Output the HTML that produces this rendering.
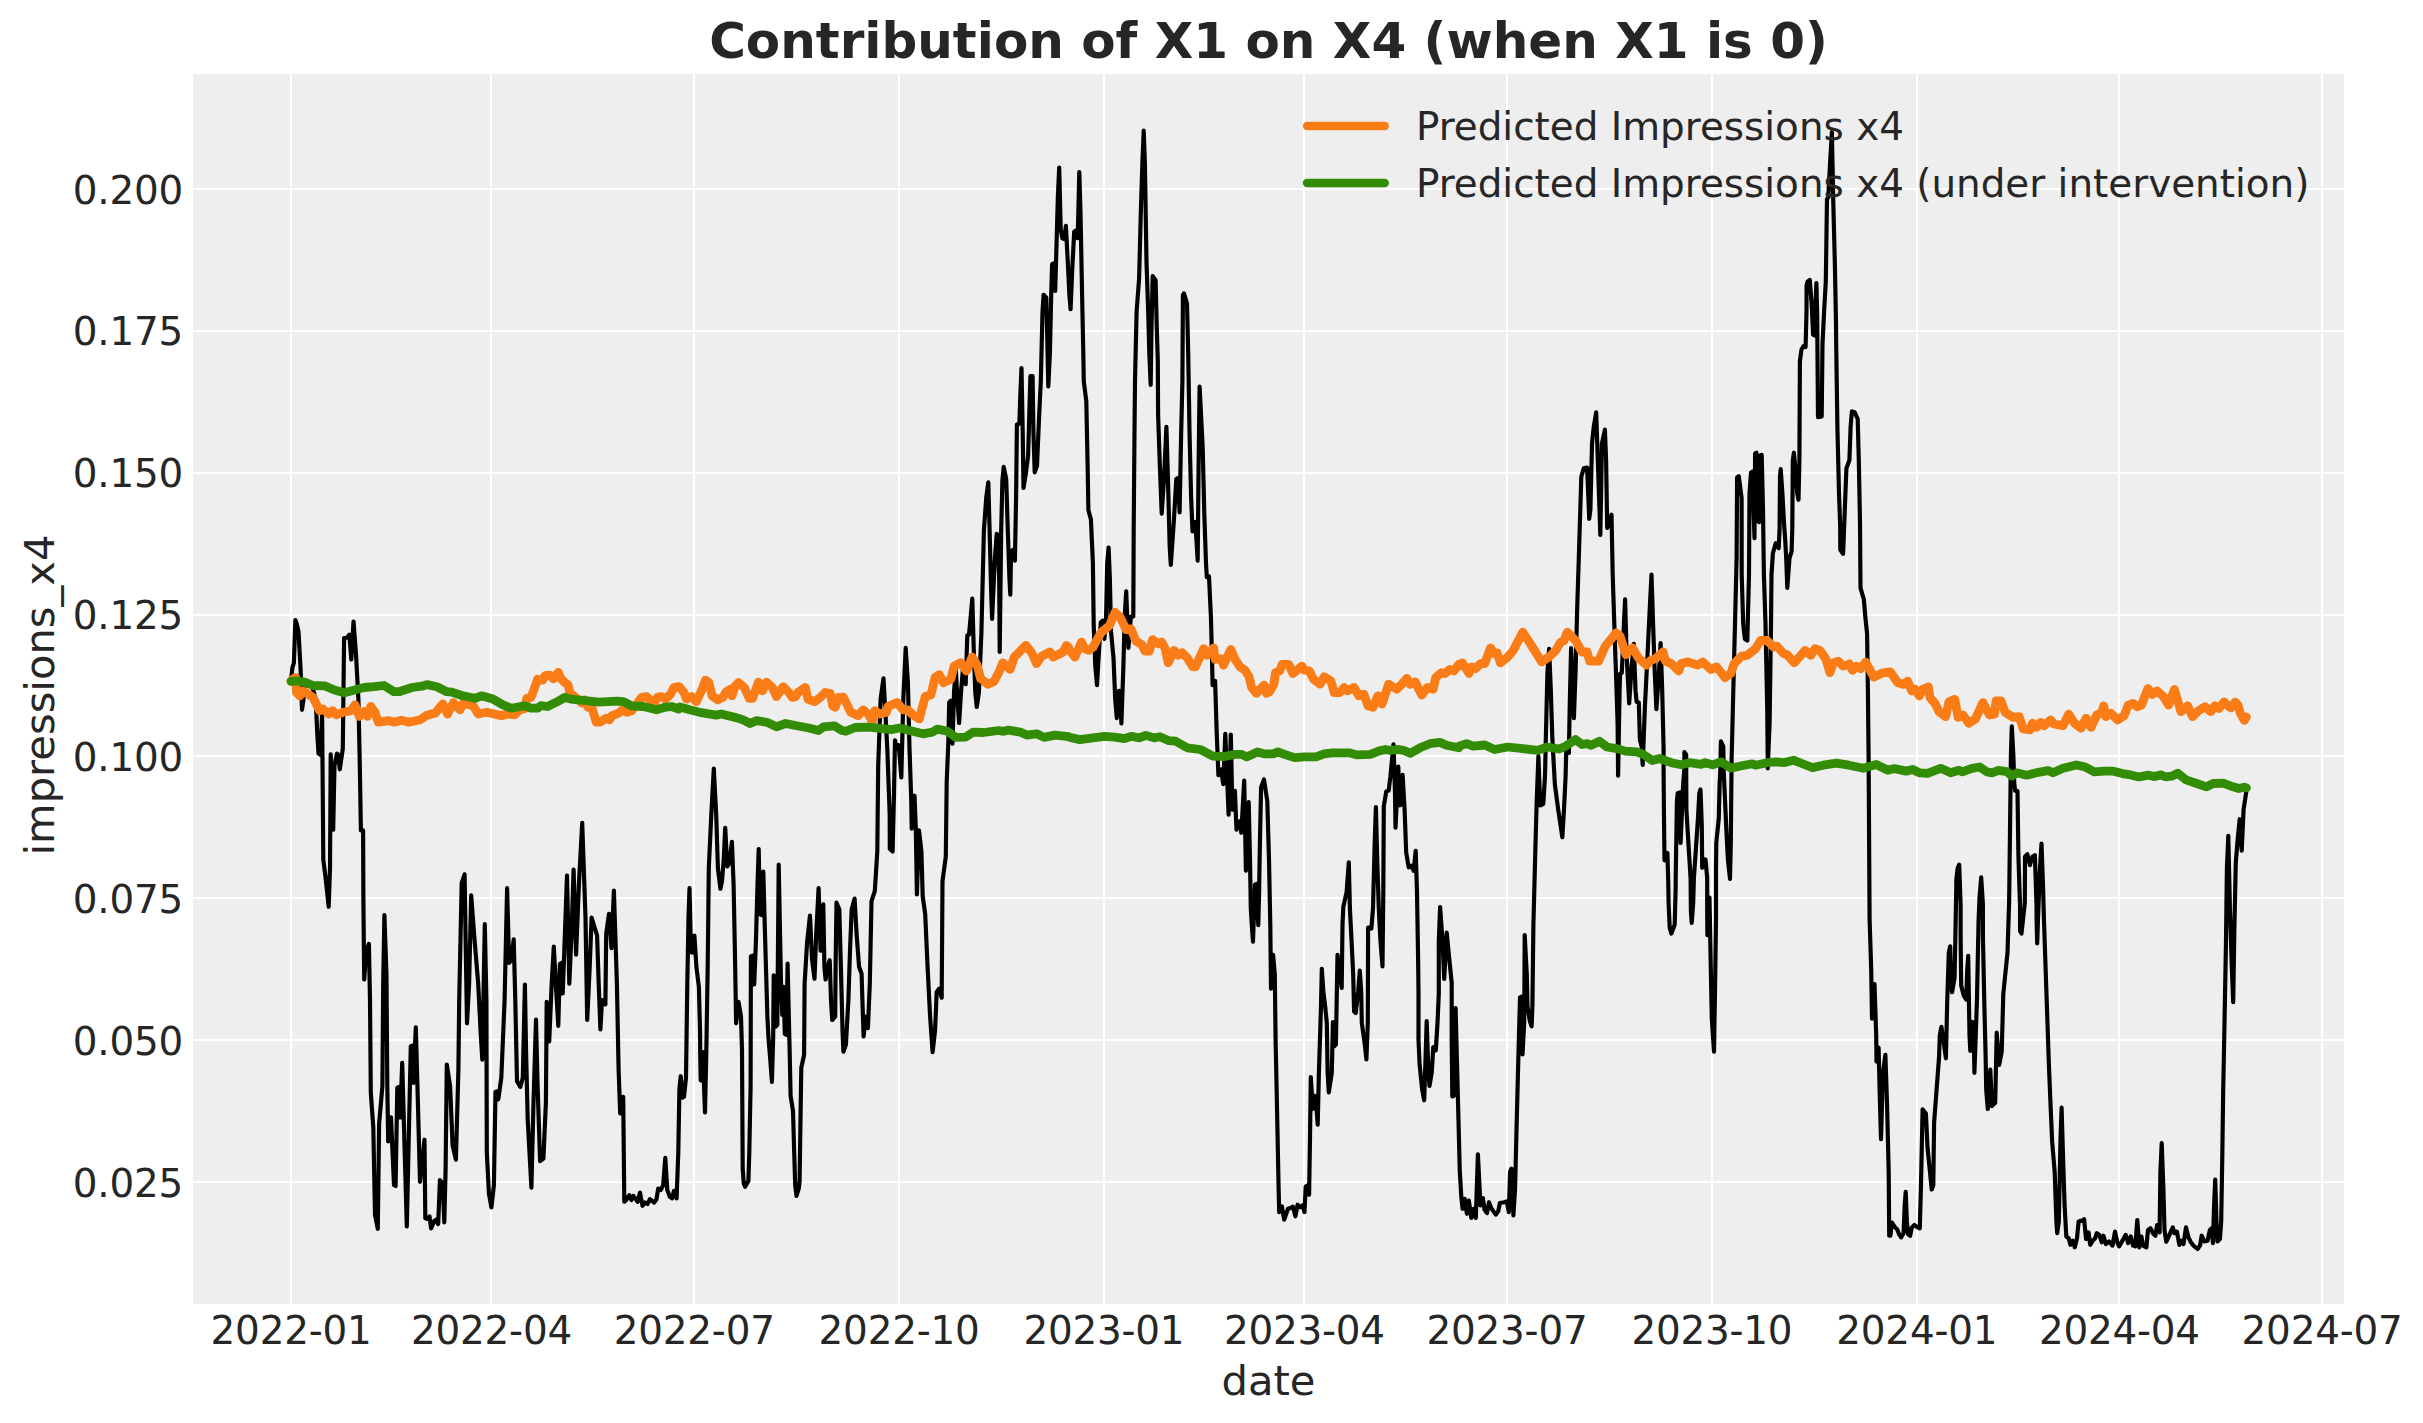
<!DOCTYPE html>
<html lang="en"><head><meta charset="utf-8"><title>Contribution of X1 on X4 (when X1 is 0)</title>
<style>
html,body{margin:0;padding:0;background:#fff;}
body{width:2423px;height:1423px;overflow:hidden;}
svg{display:block;}
text{font-family:"DejaVu Sans","Liberation Sans",sans-serif;fill:#262626;}
.tk{font-size:38.89px;}
.tl{letter-spacing:-0.2px;}
.lb{font-size:41.67px;}
.ti{font-size:50px;font-weight:bold;}
</style></head><body>
<svg width="2423" height="1423" viewBox="0 0 2423 1423">
<rect x="0" y="0" width="2423" height="1423" fill="#ffffff"/>
<rect x="193" y="74" width="2151" height="1230" fill="#eeeeee"/>
<g fill="#ffffff" shape-rendering="crispEdges">
<rect x="290" y="74" width="2" height="1230"/>
<rect x="490" y="74" width="2" height="1230"/>
<rect x="693" y="74" width="2" height="1230"/>
<rect x="898" y="74" width="2" height="1230"/>
<rect x="1103" y="74" width="2" height="1230"/>
<rect x="1303" y="74" width="2" height="1230"/>
<rect x="1506" y="74" width="2" height="1230"/>
<rect x="1711" y="74" width="2" height="1230"/>
<rect x="1916" y="74" width="2" height="1230"/>
<rect x="2118" y="74" width="2" height="1230"/>
<rect x="2321" y="74" width="2" height="1230"/>
<rect x="193" y="188" width="2151" height="2"/>
<rect x="193" y="330" width="2151" height="2"/>
<rect x="193" y="472" width="2151" height="2"/>
<rect x="193" y="614" width="2151" height="2"/>
<rect x="193" y="755" width="2151" height="2"/>
<rect x="193" y="897" width="2151" height="2"/>
<rect x="193" y="1039" width="2151" height="2"/>
<rect x="193" y="1181" width="2151" height="2"/>
</g>
<clipPath id="cp"><rect x="193" y="74" width="2151" height="1230"/></clipPath>
<g clip-path="url(#cp)" fill="none" stroke-linejoin="round" stroke-linecap="round">
<polyline points="290.9,681.3 292.4,667.7 293.9,662.8 295.4,620.1 296.5,623.1 298.5,631.4 300.6,669.4 302.0,709.8 303.5,699.1 305.1,680.9 309.7,684.2 313.0,689.2 315.7,699.1 317.2,732.1 318.5,753.6 320.6,754.9 322.1,712.3 323.3,859.8 325.4,876.3 328.7,906.8 330.0,868.0 330.7,754.4 333.2,829.6 334.5,765.2 337.0,753.6 338.1,754.4 339.8,769.3 342.8,748.6 344.1,638.0 346.9,637.7 349.4,634.7 351.3,659.5 353.5,621.5 356.0,654.5 358.4,699.1 359.8,765.2 360.9,830.4 363.1,830.4 363.4,901.1 364.2,979.5 366.2,950.6 368.9,944.0 370.0,1000.2 370.8,1092.7 373.3,1127.3 375.0,1214.9 377.8,1228.9 379.1,1124.0 382.4,1086.1 383.2,983.6 384.4,915.1 386.5,975.4 387.3,1086.1 388.2,1141.4 391.0,1117.4 394.0,1185.2 395.6,1186.0 397.3,1087.7 399.2,1086.9 400.2,1117.4 402.2,1062.9 404.7,1152.1 406.8,1226.4 408.8,1135.6 410.8,1046.4 412.1,1045.6 413.4,1082.8 415.8,1027.4 417.9,1102.6 420.0,1181.8 422.4,1160.4 424.5,1139.7 425.3,1218.2 427.5,1219.0 429.5,1216.5 431.1,1228.4 434.4,1220.7 436.1,1219.8 438.2,1224.0 439.9,1180.2 442.7,1183.5 444.3,1222.3 445.6,1168.6 446.8,1064.6 450.1,1086.1 452.6,1145.5 455.9,1159.6 458.4,1069.5 459.2,1000.2 461.7,882.9 464.6,874.3 465.8,950.6 467.0,1023.3 469.1,983.6 471.2,895.3 474.1,934.1 478.2,983.6 480.7,1033.2 482.3,1059.6 484.8,924.2 486.4,1000.2 486.8,1152.1 488.9,1193.4 491.4,1207.4 493.9,1185.2 495.5,1091.8 497.7,1091.3 498.3,1099.3 501.3,1077.8 504.6,1000.2 507.1,888.2 509.1,963.0 511.2,960.5 513.7,939.4 515.3,1000.2 517.0,1081.1 520.3,1086.9 522.8,1077.8 524.9,984.5 526.1,1053.0 527.7,1119.1 531.4,1187.6 533.5,1102.6 536.0,1019.6 537.6,1086.1 540.1,1161.2 543.4,1158.7 545.9,1102.6 546.7,1001.8 549.2,1041.4 551.7,983.6 553.8,946.5 555.8,983.6 558.3,1025.8 559.9,963.8 561.6,963.0 562.7,993.5 564.9,934.1 567.0,875.5 569.3,983.6 571.5,934.1 573.6,869.7 576.1,954.7 578.9,884.5 582.2,822.9 585.5,917.6 587.2,1020.0 589.7,967.1 591.6,917.6 597.1,935.7 598.7,983.6 600.4,1029.5 602.0,1000.2 605.4,1004.3 606.2,934.1 609.0,913.9 611.5,948.1 613.9,890.7 616.9,983.6 618.6,1069.5 620.2,1113.3 623.2,1096.8 624.3,1201.7 626.8,1199.2 629.3,1195.1 631.4,1200.0 633.4,1195.9 637.6,1201.7 640.0,1192.6 642.5,1205.8 645.0,1202.5 647.5,1204.1 649.9,1199.2 654.1,1202.5 656.5,1199.2 658.2,1188.5 660.7,1190.1 663.2,1185.2 665.3,1157.9 667.3,1190.1 669.8,1196.7 672.2,1198.4 673.9,1190.9 676.6,1198.4 678.3,1152.1 679.4,1089.4 680.7,1076.2 682.4,1097.6 684.0,1096.8 686.0,1077.8 687.3,983.6 688.5,917.6 689.5,888.2 690.6,934.1 691.5,952.3 692.8,952.6 694.4,935.7 696.4,967.1 698.9,986.9 700.1,1033.2 700.2,1053.0 700.7,1080.3 701.7,1080.3 703.0,1052.2 704.0,1086.1 705.0,1112.5 706.3,1053.0 707.7,967.1 708.8,868.0 711.3,814.7 713.8,768.5 716.2,814.7 717.9,868.0 720.4,888.7 722.0,881.2 723.7,859.8 725.2,827.9 727.3,866.4 729.5,863.1 731.9,841.9 733.6,884.5 735.2,967.1 736.1,1023.3 738.5,1001.8 741.0,1016.7 742.0,1049.7 742.2,1086.1 742.7,1168.6 743.8,1183.5 745.1,1186.8 748.4,1181.0 749.3,1152.1 750.6,1086.1 750.9,956.4 752.6,955.6 754.2,984.5 755.9,942.3 757.5,884.5 758.7,849.0 760.0,914.3 761.7,915.1 763.3,871.7 765.0,934.1 767.4,1016.7 768.4,1036.5 770.4,1061.3 771.9,1081.9 773.2,1036.5 773.7,975.4 775.7,1026.6 777.3,1024.9 778.7,864.7 781.0,983.6 782.3,1015.0 783.5,986.9 784.8,1034.0 786.4,1034.8 787.6,963.5 789.2,1033.2 789.7,1053.0 790.6,1096.0 793.0,1110.8 794.2,1152.1 795.2,1185.2 796.5,1195.9 798.8,1188.5 799.6,1181.0 800.5,1119.1 801.3,1067.9 804.1,1054.7 804.6,983.6 807.1,942.3 810.0,915.6 812.0,958.9 814.5,978.7 816.2,934.1 818.6,888.2 820.6,950.6 821.9,950.6 823.3,904.4 824.4,967.1 825.6,979.5 827.7,967.1 829.7,960.2 831.0,1000.2 832.2,1020.0 835.2,1016.7 835.6,967.1 836.5,902.7 839.3,909.3 840.9,967.1 842.6,1033.2 843.4,1051.7 845.9,1044.7 848.4,1000.2 850.0,950.6 851.7,909.3 854.6,898.6 856.6,934.1 859.1,967.1 861.6,973.7 862.4,1000.2 863.6,1036.5 865.7,1016.7 867.9,1028.2 869.8,983.6 871.5,901.1 874.8,891.2 877.3,851.5 878.2,765.2 880.6,699.1 883.5,678.4 885.1,707.3 887.3,748.6 889.7,814.7 889.8,849.0 892.6,851.5 893.9,798.2 895.0,740.4 896.7,748.6 898.8,745.3 901.3,777.5 903.3,699.1 905.7,647.9 907.9,682.6 909.5,748.6 911.2,798.2 911.7,828.7 913.2,806.4 914.5,795.7 915.8,827.9 916.9,894.5 919.0,830.4 921.4,851.5 922.7,896.1 925.2,914.3 927.6,967.1 930.1,1016.7 932.6,1052.2 935.1,1029.9 936.7,991.9 939.2,988.6 941.7,997.7 942.5,881.2 945.8,856.5 946.7,781.7 948.4,740.4 949.2,702.4 950.8,700.7 952.5,743.7 954.1,690.8 955.8,669.4 957.4,699.1 959.1,723.0 961.1,690.8 963.2,666.1 965.7,684.2 967.3,635.5 969.0,634.7 970.7,616.5 972.3,598.7 974.0,657.8 975.3,692.5 976.8,707.0 978.9,692.5 981.4,633.0 983.9,530.2 986.3,497.1 988.3,482.3 989.6,530.2 991.3,596.2 992.1,619.0 994.6,563.2 996.7,533.8 997.9,535.1 999.2,579.7 999.7,652.0 1001.2,530.2 1002.4,480.6 1003.7,466.9 1006.2,479.0 1007.8,530.2 1009.5,579.7 1010.3,594.6 1011.1,551.6 1012.8,550.0 1014.9,560.7 1016.1,497.1 1016.9,424.5 1019.4,423.6 1020.2,398.0 1021.5,368.0 1022.7,431.1 1023.5,488.0 1026.0,472.3 1028.1,455.8 1029.3,414.5 1030.4,376.2 1032.6,376.2 1033.4,431.1 1034.7,472.3 1037.0,465.7 1039.2,414.5 1040.8,381.5 1042.5,311.7 1043.6,294.8 1046.3,297.6 1047.4,344.7 1048.3,386.5 1049.9,353.0 1051.2,295.2 1052.1,264.1 1053.6,263.4 1055.2,291.0 1056.5,245.6 1057.9,196.1 1059.2,167.7 1060.7,229.1 1062.3,238.2 1064.3,239.0 1065.9,225.8 1067.8,262.1 1069.4,295.2 1070.6,309.2 1072.2,270.4 1074.2,231.6 1075.5,230.7 1077.7,238.2 1079.3,172.1 1080.5,212.6 1082.1,295.2 1083.3,353.0 1083.8,381.5 1086.3,401.3 1087.6,464.1 1088.4,510.3 1090.9,519.4 1092.9,563.2 1093.7,624.8 1095.3,666.1 1097.0,685.1 1099.1,649.5 1100.8,622.3 1102.8,620.6 1104.4,638.8 1106.1,616.5 1107.2,563.2 1108.6,547.5 1109.9,579.7 1111.0,631.4 1113.5,657.8 1115.2,699.1 1116.8,718.1 1119.0,690.8 1120.1,692.5 1121.4,723.5 1123.4,666.1 1124.7,616.5 1126.2,591.3 1127.5,624.8 1128.4,647.9 1130.9,616.5 1133.3,616.5 1133.7,530.2 1134.5,431.1 1135.0,381.5 1136.6,311.7 1139.1,278.6 1140.8,212.6 1142.4,163.0 1143.7,130.7 1144.9,163.0 1146.5,262.1 1148.2,311.7 1149.3,353.0 1150.7,384.8 1151.5,328.2 1152.7,276.2 1155.6,280.3 1156.8,328.2 1157.8,361.2 1158.1,414.5 1159.8,464.1 1161.7,513.6 1163.9,480.6 1166.4,426.9 1168.0,480.6 1169.7,546.7 1170.8,564.8 1173.8,521.9 1176.3,479.0 1177.9,478.1 1179.6,512.3 1181.2,431.1 1182.4,381.5 1182.9,295.2 1184.0,293.5 1187.0,303.4 1188.2,353.0 1189.5,431.1 1191.1,497.1 1192.5,531.5 1195.3,521.9 1197.7,560.7 1198.6,464.1 1199.6,386.5 1202.7,447.6 1204.3,513.6 1206.0,563.2 1206.8,577.2 1209.0,576.4 1210.9,616.5 1211.8,649.5 1212.6,685.1 1215.1,680.9 1216.7,732.1 1218.4,775.1 1220.9,769.3 1223.3,784.1 1225.3,733.8 1226.6,765.2 1228.6,814.7 1230.8,734.6 1232.4,809.7 1234.9,790.8 1236.5,829.6 1240.1,821.1 1241.3,832.7 1242.6,809.5 1244.2,780.6 1245.1,826.1 1245.9,870.7 1247.2,834.3 1248.7,802.1 1250.0,859.1 1250.8,908.6 1251.8,925.2 1253.0,941.7 1254.1,908.6 1255.0,884.7 1256.6,883.9 1257.4,908.6 1258.3,925.2 1259.1,892.1 1259.9,842.6 1261.1,787.3 1264.0,779.5 1267.3,801.3 1269.0,859.1 1270.3,925.2 1271.0,988.7 1273.1,954.9 1274.8,974.7 1275.6,1039.5 1277.3,1122.1 1278.6,1188.2 1279.2,1212.1 1281.9,1206.4 1284.2,1219.6 1288.0,1208.8 1290.5,1208.0 1292.9,1206.7 1295.4,1216.3 1297.6,1204.7 1300.0,1207.2 1302.4,1205.5 1304.5,1212.1 1305.7,1186.5 1307.0,1185.7 1309.1,1194.8 1310.0,1138.6 1310.8,1077.2 1312.8,1108.9 1313.9,1095.7 1315.6,1096.5 1317.7,1124.6 1318.9,1072.6 1321.0,1006.5 1321.8,968.9 1323.5,993.3 1325.2,1006.5 1326.8,1023.0 1327.6,1072.6 1328.8,1092.4 1331.8,1072.6 1332.9,1022.2 1334.2,1046.2 1335.9,1044.5 1337.5,954.9 1340.0,974.7 1341.7,987.9 1342.5,925.2 1343.3,907.0 1346.6,892.1 1348.8,862.4 1349.9,908.6 1351.6,941.7 1353.2,974.7 1354.1,1011.5 1355.7,1013.1 1358.2,991.2 1359.8,970.6 1361.2,991.2 1361.8,1023.0 1364.8,1044.5 1366.4,1059.4 1367.8,1023.0 1368.1,927.6 1371.4,928.5 1373.0,908.6 1374.7,842.6 1375.9,807.1 1377.2,859.1 1378.8,908.6 1380.5,941.7 1382.5,966.4 1383.3,892.1 1383.8,806.2 1386.3,791.4 1388.7,790.6 1390.4,776.5 1393.5,744.3 1395.0,793.0 1395.5,827.7 1397.2,793.0 1398.3,766.6 1399.6,805.4 1401.3,804.6 1402.6,774.9 1404.6,809.5 1406.2,852.5 1408.7,867.3 1411.2,865.7 1413.7,870.7 1415.7,850.8 1417.0,892.1 1418.1,958.2 1418.5,991.2 1418.5,1039.5 1419.6,1064.3 1422.1,1089.1 1424.2,1100.3 1425.6,1056.1 1426.7,1021.0 1428.4,1072.6 1429.5,1085.8 1431.7,1072.6 1433.3,1047.0 1435.8,1050.3 1437.5,1023.0 1438.8,993.3 1438.8,941.7 1440.1,907.0 1442.6,941.7 1444.2,978.8 1446.7,932.6 1449.2,958.2 1451.7,983.0 1451.7,1039.5 1452.3,1096.5 1454.0,1095.7 1455.6,1008.2 1458.1,1105.6 1459.8,1171.7 1461.4,1198.1 1462.6,1208.8 1464.7,1198.9 1466.9,1213.8 1468.8,1200.6 1471.3,1217.9 1473.5,1208.8 1475.8,1217.9 1476.8,1188.2 1477.9,1154.3 1479.6,1188.2 1480.4,1205.5 1482.9,1198.1 1484.5,1209.7 1487.0,1213.0 1489.0,1202.2 1491.1,1208.0 1495.8,1214.6 1498.2,1211.3 1499.9,1203.0 1504.3,1202.2 1506.8,1201.4 1508.8,1212.1 1510.1,1171.7 1511.4,1168.7 1513.4,1215.4 1515.1,1188.2 1516.7,1122.1 1518.4,1056.1 1520.0,997.4 1521.7,996.6 1522.5,1054.4 1524.2,1023.0 1524.7,935.1 1526.8,974.7 1527.5,1006.5 1529.9,1021.4 1531.6,1026.3 1532.4,1006.5 1533.4,925.2 1535.1,859.1 1536.7,801.3 1538.4,756.2 1540.3,805.4 1543.3,803.8 1545.0,776.5 1545.8,739.7 1547.4,673.6 1549.1,648.9 1550.8,690.2 1552.4,739.7 1554.9,784.8 1558.2,809.5 1560.7,826.1 1562.3,837.3 1564.0,809.5 1565.6,776.5 1566.4,744.7 1568.9,752.9 1569.7,706.7 1571.1,648.0 1572.2,673.6 1573.9,718.2 1575.5,673.6 1577.2,607.6 1578.8,558.0 1581.3,476.7 1583.8,468.4 1587.1,467.6 1588.2,493.2 1589.2,518.8 1590.4,509.7 1592.0,443.6 1593.7,427.1 1596.2,412.3 1597.8,460.2 1599.5,509.7 1600.3,534.9 1601.1,493.2 1601.9,443.6 1604.9,429.6 1606.1,460.2 1606.9,509.7 1607.2,527.9 1609.4,522.9 1611.5,514.7 1612.7,574.5 1614.3,624.1 1616.0,673.6 1617.6,723.2 1618.1,775.7 1619.6,690.2 1620.1,673.6 1621.8,672.8 1623.9,624.1 1625.1,599.3 1626.7,657.1 1629.2,703.4 1631.7,665.4 1633.8,643.9 1635.5,690.2 1636.6,701.7 1638.8,702.5 1639.9,739.7 1641.6,746.3 1642.7,765.0 1644.9,706.7 1647.4,657.1 1649.8,607.6 1651.5,574.5 1653.1,624.1 1654.8,673.6 1656.4,709.1 1658.9,673.6 1660.6,643.1 1662.2,690.2 1663.6,748.0 1663.6,770.0 1663.9,810.0 1664.5,860.3 1667.4,852.9 1668.2,880.0 1668.6,903.0 1669.7,927.8 1671.4,933.6 1674.7,924.5 1675.7,886.5 1675.7,878.0 1676.9,801.5 1677.7,793.2 1679.8,792.3 1680.6,842.9 1683.1,784.9 1684.4,768.3 1684.4,752.1 1686.2,754.6 1686.2,768.3 1686.4,809.8 1688.9,851.2 1690.6,878.0 1690.9,911.3 1691.7,922.8 1693.2,903.0 1693.9,878.0 1698.0,818.0 1699.3,793.2 1700.5,789.4 1701.8,826.3 1702.2,867.8 1705.5,859.5 1707.2,878.0 1707.2,911.3 1707.4,935.2 1709.5,897.6 1710.5,952.6 1711.8,1018.6 1714.0,1051.7 1715.1,985.6 1716.0,919.5 1716.0,871.9 1716.3,842.9 1718.8,818.0 1719.6,784.9 1720.4,768.3 1720.9,741.4 1723.3,746.3 1723.7,770.8 1726.2,826.3 1727.9,859.5 1730.0,878.9 1730.8,842.9 1731.2,801.5 1731.6,760.0 1733.3,690.2 1735.0,624.1 1736.6,558.0 1737.1,477.5 1738.8,476.3 1741.6,498.1 1741.7,574.5 1743.2,624.1 1744.9,639.0 1747.3,640.6 1749.0,574.5 1749.5,493.2 1751.0,472.5 1752.3,471.7 1753.3,501.4 1754.5,538.2 1755.1,453.5 1756.4,452.7 1758.1,521.3 1759.2,522.1 1760.2,455.2 1761.7,454.9 1763.0,509.7 1763.9,574.5 1765.5,624.1 1767.2,706.7 1767.7,756.2 1767.7,768.3 1769.6,723.2 1771.0,624.1 1771.5,574.5 1772.9,553.1 1775.8,543.2 1778.7,548.1 1779.6,528.3 1780.0,476.7 1780.7,469.2 1782.4,493.2 1784.0,522.9 1785.3,541.5 1786.2,558.0 1787.3,587.8 1789.5,558.0 1791.6,551.4 1792.3,528.3 1792.8,460.2 1793.9,452.7 1796.1,476.7 1797.2,493.2 1798.5,499.8 1799.4,460.2 1799.9,361.1 1801.5,349.5 1803.5,346.2 1805.6,347.0 1806.5,311.5 1806.6,285.0 1807.6,281.7 1809.8,280.0 1811.8,306.4 1813.1,334.6 1814.7,335.5 1815.4,306.4 1816.4,283.0 1817.2,314.7 1817.4,344.5 1818.0,417.2 1821.7,416.4 1822.5,344.5 1824.1,311.5 1825.8,281.7 1827.0,199.1 1828.3,197.4 1829.9,166.1 1831.9,132.2 1833.2,199.1 1834.9,265.2 1836.0,323.0 1836.2,344.5 1837.4,427.1 1839.0,493.2 1840.2,526.2 1840.3,549.8 1843.1,553.9 1844.8,509.7 1846.4,468.4 1849.4,460.2 1850.6,427.1 1851.9,411.4 1854.7,412.3 1857.7,418.9 1858.8,460.2 1860.0,522.9 1860.5,587.8 1863.8,599.3 1865.4,617.5 1867.1,634.0 1867.9,690.2 1868.6,756.2 1869.6,919.5 1871.2,969.1 1872.0,1018.6 1874.5,984.0 1876.2,1035.2 1876.5,1061.6 1878.6,1047.5 1879.6,1089.5 1881.0,1139.1 1882.9,1073.0 1885.4,1054.9 1887.1,1106.1 1888.7,1172.1 1889.2,1235.7 1890.4,1235.7 1892.0,1222.5 1894.5,1226.6 1897.0,1229.1 1899.1,1234.1 1901.1,1237.4 1903.6,1233.2 1904.7,1205.2 1905.7,1191.9 1906.9,1221.7 1908.0,1234.1 1910.2,1235.7 1911.8,1227.4 1914.3,1225.0 1917.6,1227.4 1919.8,1228.3 1920.9,1188.6 1922.6,1109.4 1925.9,1113.5 1927.5,1147.3 1930.0,1172.1 1931.7,1189.5 1933.3,1185.3 1934.1,1122.6 1936.6,1089.5 1939.1,1056.5 1939.8,1035.2 1941.4,1026.9 1943.9,1043.4 1945.9,1058.3 1947.2,1002.1 1948.8,952.6 1950.2,946.3 1951.3,985.6 1952.1,992.2 1954.6,977.3 1956.3,886.5 1956.3,879.9 1957.6,868.4 1959.2,864.7 1960.6,904.7 1960.6,936.1 1961.2,985.6 1963.7,995.5 1966.2,999.6 1967.3,969.1 1968.2,955.9 1969.5,1035.2 1970.3,1050.8 1972.0,1021.9 1973.6,1022.8 1974.4,1072.8 1976.9,1002.1 1978.6,919.5 1979.6,896.4 1981.2,877.4 1982.9,904.7 1982.9,936.1 1984.3,1002.1 1985.7,1059.9 1986.2,1089.5 1987.8,1109.0 1989.5,1089.5 1990.3,1069.7 1991.9,1106.1 1995.2,1102.8 1996.7,1032.7 1999.2,1064.9 2001.7,1051.7 2003.3,993.9 2007.5,952.6 2009.1,903.0 2009.3,888.2 2010.1,822.1 2010.9,756.1 2011.8,726.3 2013.4,756.1 2014.2,782.5 2015.1,790.7 2017.5,791.1 2018.4,855.2 2020.0,904.7 2020.1,931.1 2021.5,933.6 2024.8,903.0 2024.9,888.2 2025.0,856.8 2027.4,854.3 2029.9,865.1 2032.4,856.8 2034.9,855.2 2036.5,904.7 2036.6,919.5 2037.2,943.5 2038.0,919.5 2039.8,871.7 2041.5,843.6 2043.1,888.2 2044.0,921.2 2048.9,1064.8 2050.6,1106.1 2052.2,1142.4 2054.7,1172.1 2056.4,1221.7 2057.2,1233.2 2058.8,1221.7 2060.5,1139.1 2061.6,1107.7 2063.0,1155.6 2064.6,1205.2 2066.3,1236.5 2068.7,1238.2 2070.4,1244.8 2072.9,1240.7 2074.8,1247.3 2077.0,1238.2 2078.6,1221.7 2080.3,1220.8 2081.9,1220.8 2084.1,1219.2 2086.1,1239.0 2088.6,1232.4 2090.2,1244.8 2092.7,1240.7 2095.2,1238.2 2096.8,1233.2 2099.3,1234.9 2101.8,1242.3 2103.4,1235.7 2105.9,1244.0 2109.2,1241.5 2112.5,1245.6 2115.0,1231.6 2117.5,1243.1 2119.1,1246.4 2122.4,1240.7 2125.7,1234.9 2128.2,1243.1 2130.7,1236.5 2133.1,1245.6 2135.3,1246.4 2137.3,1220.0 2139.3,1247.3 2141.4,1236.5 2143.1,1245.6 2146.4,1247.3 2148.0,1229.9 2150.5,1228.3 2153.0,1233.2 2155.4,1235.7 2157.1,1225.0 2159.6,1232.4 2160.4,1172.1 2161.7,1143.2 2163.4,1188.6 2164.5,1229.9 2166.2,1241.8 2168.7,1236.5 2172.8,1227.4 2174.4,1233.2 2176.9,1231.6 2179.4,1244.8 2181.9,1240.7 2183.5,1244.0 2186.0,1227.4 2188.5,1237.4 2190.9,1242.3 2193.4,1245.6 2197.6,1248.9 2200.0,1245.6 2201.7,1235.7 2204.2,1241.5 2207.5,1240.7 2209.9,1229.9 2211.6,1228.3 2212.9,1243.1 2214.1,1205.2 2215.2,1179.6 2216.5,1221.7 2217.4,1241.5 2219.9,1239.0 2221.2,1221.7 2222.3,1155.6 2223.2,1089.5 2224.0,1050.0 2225.9,947.0 2226.9,868.4 2228.3,835.9 2229.9,907.7 2231.8,966.8 2233.2,1002.2 2234.4,927.4 2235.8,862.5 2237.7,838.9 2239.7,819.2 2241.7,850.7 2243.6,809.4 2246.6,789.7" stroke="#000000" stroke-width="4.17"/>
<polyline points="291.0,681.3 292.9,678.9 295.7,677.6 296.5,692.5 299.8,695.8 303.1,690.8 313.0,697.4 319.6,710.7 322.9,709.0 328.7,714.0 332.8,710.7 336.2,714.8 342.8,712.3 351.0,710.7 355.1,704.9 359.3,716.4 364.2,711.5 367.5,716.4 370.8,706.5 375.0,712.3 378.3,722.2 389.0,720.6 394.0,722.2 401.4,720.2 408.8,722.2 420.4,719.7 426.2,715.6 435.2,713.1 442.7,704.0 447.6,714.0 453.4,702.7 460.0,709.8 463.3,703.2 473.2,705.7 478.2,714.0 486.4,712.3 501.3,715.6 507.9,714.0 514.5,714.8 519.5,709.8 524.4,709.0 526.9,698.3 531.0,697.4 533.5,690.8 537.6,679.3 542.6,680.1 545.1,675.6 550.0,675.1 553.3,678.9 558.3,672.3 560.8,678.4 564.9,682.6 568.2,685.1 569.8,692.5 575.6,697.4 582.2,703.2 584.7,699.9 588.0,707.3 592.1,708.2 596.3,722.2 600.4,722.2 606.2,718.1 609.5,719.7 612.0,715.6 618.6,713.1 622.7,709.8 626.8,712.3 631.8,710.7 641.7,697.4 646.6,696.6 650.8,700.7 653.2,704.9 657.4,697.4 661.5,696.6 665.6,699.1 670.6,694.1 673.9,687.5 678.8,686.7 679.1,686.7 684.0,692.5 686.5,699.1 691.5,696.6 696.4,701.6 702.2,689.2 705.5,680.1 708.8,682.6 712.1,695.8 717.9,699.9 722.8,697.4 726.2,691.7 730.3,689.2 731.9,695.8 735.2,685.9 738.5,682.6 744.3,687.5 749.3,698.3 752.6,698.3 755.9,689.2 758.4,682.2 762.5,690.8 766.6,682.2 772.4,687.5 776.5,696.6 783.1,686.7 788.9,692.5 792.2,697.4 795.5,696.6 798.0,692.5 805.4,687.5 807.9,699.1 814.5,701.6 820.3,697.4 825.2,692.5 830.2,693.3 832.7,705.7 835.2,707.3 838.5,697.4 843.4,697.1 847.5,705.7 850.8,712.3 858.3,715.6 863.2,709.8 868.2,714.0 872.3,721.4 874.8,710.7 879.7,714.0 886.4,712.3 888.0,706.5 897.1,702.4 902.9,709.8 907.8,709.8 912.8,714.8 919.4,718.9 925.2,696.6 930.9,695.0 935.1,677.6 939.2,674.6 943.3,682.6 950.8,679.3 954.1,666.1 960.7,662.8 966.4,671.0 972.2,657.0 977.2,665.2 980.5,678.4 987.9,684.2 993.7,681.8 998.7,672.7 1002.8,662.8 1010.2,669.4 1014.3,657.0 1018.5,652.8 1025.9,645.4 1031.7,652.8 1036.6,663.6 1041.6,656.2 1049.9,652.0 1053.2,657.0 1063.1,652.0 1066.4,645.4 1068.8,647.9 1069.1,649.5 1074.9,657.0 1081.5,642.1 1084.8,648.7 1088.9,650.4 1093.0,647.1 1101.3,632.2 1109.5,625.6 1115.0,612.4 1120.3,617.3 1126.1,629.7 1131.0,628.9 1136.0,641.3 1141.8,644.6 1145.1,651.2 1149.2,651.2 1152.5,639.6 1158.3,643.8 1161.6,642.1 1164.9,647.9 1168.2,662.8 1174.0,650.4 1178.1,655.3 1182.2,652.8 1187.2,657.8 1192.9,666.9 1195.4,666.9 1203.7,648.7 1207.0,655.3 1213.6,647.9 1215.2,659.5 1221.0,658.6 1223.5,665.2 1230.9,649.5 1234.2,657.8 1240.0,666.9 1245.0,670.2 1249.1,676.8 1251.6,687.5 1256.5,693.3 1264.0,685.1 1266.4,693.3 1269.7,691.7 1273.9,684.2 1275.5,672.7 1279.7,671.0 1282.1,664.4 1288.7,664.4 1292.9,673.5 1301.9,666.1 1304.4,670.2 1309.4,671.0 1313.5,679.3 1320.1,684.2 1324.2,676.8 1330.9,680.9 1334.2,692.5 1339.9,692.5 1344.1,687.5 1347.4,690.8 1354.0,687.5 1358.9,695.8 1363.9,694.1 1368.0,705.7 1373.0,707.3 1377.9,695.8 1382.0,704.0 1388.7,684.2 1396.9,689.2 1401.9,684.2 1406.8,678.4 1410.1,684.2 1415.1,681.8 1421.7,695.0 1427.5,687.5 1433.2,689.2 1435.7,677.6 1441.5,672.7 1444.8,673.5 1449.8,669.4 1453.9,671.0 1458.8,664.4 1459.1,666.1 1462.4,662.8 1469.0,673.5 1471.5,666.9 1475.6,668.5 1480.6,663.6 1484.7,663.6 1490.5,647.9 1494.6,653.7 1497.1,652.8 1500.4,662.8 1507.0,657.8 1512.8,651.2 1522.7,632.2 1529.3,642.1 1541.7,661.9 1549.1,657.0 1555.7,650.4 1560.7,642.1 1564.0,640.5 1567.3,632.2 1575.5,640.5 1582.1,652.0 1587.1,652.0 1589.6,661.1 1598.6,661.1 1605.2,646.2 1616.0,633.0 1620.1,636.3 1625.9,654.5 1632.5,647.9 1638.3,657.8 1646.5,665.2 1650.7,660.3 1655.6,658.6 1663.0,652.0 1665.5,661.1 1671.3,663.6 1678.7,671.0 1681.2,663.6 1687.8,661.9 1697.7,665.2 1702.7,661.9 1710.9,669.4 1716.7,666.9 1725.0,677.6 1730.8,673.5 1734.1,663.6 1741.5,656.2 1747.3,655.3 1755.5,648.7 1760.5,640.5 1767.1,640.5 1773.7,647.1 1777.0,646.2 1783.6,653.7 1786.9,654.5 1794.3,662.8 1805.1,650.4 1810.9,655.3 1815.0,648.7 1819.9,650.4 1825.7,658.6 1829.9,672.7 1833.2,662.8 1838.1,661.1 1843.1,666.1 1848.8,664.4 1849.1,663.8 1852.4,670.4 1856.5,666.2 1860.6,668.7 1865.6,662.1 1873.9,677.0 1882.9,672.8 1890.4,672.0 1897.8,682.8 1903.6,684.4 1907.7,681.1 1911.8,691.0 1915.1,689.4 1919.3,696.0 1922.6,689.4 1928.4,686.9 1930.0,697.6 1935.0,703.4 1939.1,711.7 1945.7,716.6 1949.0,701.8 1954.8,699.3 1958.1,717.4 1963.0,715.0 1968.8,723.2 1975.4,719.1 1982.9,702.6 1989.5,715.0 1994.4,714.1 1996.1,700.9 2001.0,700.9 2005.2,712.5 2013.4,717.4 2019.2,716.6 2023.3,729.0 2029.9,729.8 2032.4,723.2 2036.5,727.3 2040.7,722.4 2044.0,725.7 2050.6,719.9 2053.9,724.0 2063.0,725.7 2068.7,714.1 2074.5,723.2 2081.1,728.2 2086.1,718.3 2091.0,727.3 2096.8,715.0 2101.8,712.5 2103.7,705.9 2105.9,716.6 2110.9,713.3 2117.5,719.9 2124.1,715.8 2128.2,705.1 2133.1,703.4 2137.3,706.7 2141.4,705.1 2148.0,688.5 2152.1,694.3 2157.1,691.0 2162.9,696.0 2168.7,705.1 2174.4,689.4 2181.0,711.7 2187.6,705.9 2192.6,716.6 2198.4,710.8 2205.0,706.7 2210.8,711.7 2214.9,705.9 2219.0,708.4 2224.0,701.8 2228.9,706.7 2231.0,707.8 2235.2,702.2 2238.0,705.0 2240.1,712.7 2244.3,720.4 2246.4,716.9" stroke="#fa7c17" stroke-width="8.8"/>
<polyline points="291.0,681.3 296.5,680.9 304.8,682.2 313.0,685.5 324.6,685.9 334.5,690.0 344.4,692.8 352.7,690.5 364.2,687.5 374.1,686.7 384.0,685.5 394.0,691.7 398.9,691.7 412.1,687.5 422.0,686.2 427.0,684.6 436.9,686.7 446.8,691.7 451.8,692.2 461.7,695.5 474.9,698.3 481.5,695.8 493.0,699.1 503.0,704.9 511.2,708.2 524.4,705.7 531.0,708.2 537.6,708.2 540.9,705.7 547.5,706.5 557.5,701.6 564.9,697.4 570.7,699.1 585.5,700.7 598.7,702.1 616.9,701.1 623.5,701.6 631.8,706.0 643.3,706.5 656.5,709.8 664.8,707.3 671.4,706.5 678.8,709.0 679.9,707.0 689.8,709.8 699.7,712.3 716.2,715.1 721.2,714.0 736.1,717.6 742.7,719.7 750.1,723.5 756.7,720.6 767.4,722.5 776.5,726.8 785.6,723.5 795.5,725.5 808.7,728.0 818.6,730.5 823.6,726.8 834.3,725.8 841.8,730.5 845.9,731.3 855.0,727.5 868.2,727.2 884.7,728.8 891.3,729.6 899.6,728.0 912.8,731.3 922.7,733.8 932.6,732.1 937.5,729.1 947.5,731.3 955.7,737.4 965.6,737.1 973.1,732.1 983.8,732.5 998.7,730.5 1003.6,731.3 1008.6,730.1 1020.1,732.1 1026.7,735.1 1036.6,733.8 1044.1,737.4 1054.8,735.1 1068.8,736.7 1069.1,737.1 1079.8,739.6 1093.0,737.9 1104.6,736.3 1114.5,737.1 1124.4,738.7 1131.0,736.3 1139.3,737.9 1145.9,735.4 1154.1,737.9 1159.9,736.7 1169.0,740.7 1175.6,741.2 1187.2,747.8 1200.4,749.5 1212.8,756.1 1223.5,756.6 1235.1,754.4 1241.7,754.4 1246.6,756.9 1257.4,751.9 1264.8,753.9 1273.0,753.9 1278.0,751.9 1284.6,754.4 1294.5,757.7 1304.4,756.9 1316.0,756.9 1324.2,753.9 1332.5,752.8 1349.0,752.8 1357.3,754.9 1370.5,754.4 1378.7,751.1 1385.4,749.5 1390.3,750.3 1398.6,749.5 1403.5,750.3 1410.1,753.3 1420.0,747.8 1429.9,743.7 1439.9,742.4 1446.5,745.3 1458.8,747.8 1459.1,746.2 1466.5,743.7 1473.1,746.2 1484.7,745.0 1494.6,749.5 1507.8,747.0 1522.7,748.6 1537.5,750.3 1547.4,747.0 1559.0,749.0 1565.6,746.2 1575.5,739.6 1582.1,744.5 1587.1,743.7 1591.2,745.3 1599.5,741.2 1606.9,747.0 1616.8,748.6 1625.1,751.1 1636.6,751.9 1643.2,754.4 1652.3,760.5 1659.7,758.5 1671.3,762.7 1681.2,764.8 1689.5,762.7 1701.0,764.3 1705.2,762.7 1712.6,764.8 1720.9,761.8 1730.8,768.1 1740.7,766.0 1752.2,763.8 1755.5,765.2 1767.1,762.7 1776.2,761.8 1783.6,762.7 1793.5,760.2 1801.8,763.5 1812.5,767.6 1823.2,765.2 1836.5,763.2 1848.8,765.2 1849.1,765.3 1863.1,768.3 1876.3,764.5 1887.9,770.3 1894.5,768.6 1906.1,771.1 1912.7,769.5 1919.3,772.8 1927.5,773.3 1940.7,768.3 1950.7,772.8 1958.9,770.3 1962.2,771.9 1972.1,768.3 1979.6,767.0 1987.0,771.9 1991.9,772.8 1998.5,770.3 2006.8,771.6 2011.8,776.1 2016.7,772.8 2026.6,775.2 2038.2,772.3 2048.1,770.6 2053.0,772.8 2063.0,768.3 2076.2,765.0 2084.4,766.7 2094.3,771.9 2104.2,771.1 2112.5,771.1 2122.4,773.6 2130.7,774.9 2138.9,776.9 2148.8,775.2 2153.8,776.6 2161.2,774.9 2165.4,776.9 2172.0,776.1 2177.7,773.3 2186.0,779.9 2196.7,783.5 2206.6,786.8 2213.2,783.5 2223.2,783.2 2233.1,786.8 2238.8,788.5 2244.3,787.2 2246.4,787.9" stroke="#328c06" stroke-width="8.8"/>
</g>
<text class="tk tl" x="291.1" y="1343.6" text-anchor="middle">2022-01</text>
<text class="tk tl" x="491.5" y="1343.6" text-anchor="middle">2022-04</text>
<text class="tk tl" x="694.2" y="1343.6" text-anchor="middle">2022-07</text>
<text class="tk tl" x="899.1" y="1343.6" text-anchor="middle">2022-10</text>
<text class="tk tl" x="1103.9" y="1343.6" text-anchor="middle">2023-01</text>
<text class="tk tl" x="1304.4" y="1343.6" text-anchor="middle">2023-04</text>
<text class="tk tl" x="1507.0" y="1343.6" text-anchor="middle">2023-07</text>
<text class="tk tl" x="1711.9" y="1343.6" text-anchor="middle">2023-10</text>
<text class="tk tl" x="1916.8" y="1343.6" text-anchor="middle">2024-01</text>
<text class="tk tl" x="2119.4" y="1343.6" text-anchor="middle">2024-04</text>
<text class="tk tl" x="2322.1" y="1343.6" text-anchor="middle">2024-07</text>
<text class="tk tl" x="183.1" y="203.5" text-anchor="end">0.200</text>
<text class="tk tl" x="183.1" y="345.4" text-anchor="end">0.175</text>
<text class="tk tl" x="183.1" y="487.2" text-anchor="end">0.150</text>
<text class="tk tl" x="183.1" y="629.1" text-anchor="end">0.125</text>
<text class="tk tl" x="183.1" y="770.9" text-anchor="end">0.100</text>
<text class="tk tl" x="183.1" y="912.8" text-anchor="end">0.075</text>
<text class="tk tl" x="183.1" y="1054.6" text-anchor="end">0.050</text>
<text class="tk tl" x="183.1" y="1196.5" text-anchor="end">0.025</text>
<text class="lb" x="1268.5" y="1395.2" text-anchor="middle">date</text>
<text class="lb" transform="translate(53.7 695) rotate(-90)" text-anchor="middle">impressions_x4</text>
<text class="ti" x="1268.5" y="58.1" text-anchor="middle">Contribution of X1 on X4 (when X1 is 0)</text>
<g fill="none" stroke-linecap="round" stroke-width="8.33">
<line x1="1307" y1="126" x2="1384.8" y2="126" stroke="#fa7c17"/>
<line x1="1307" y1="183" x2="1384.8" y2="183" stroke="#328c06"/>
</g>
<text class="tk" x="1415.9" y="140.4">Predicted Impressions x4</text>
<text class="tk" x="1415.9" y="197.4">Predicted Impressions x4 (under intervention)</text>
</svg></body></html>
